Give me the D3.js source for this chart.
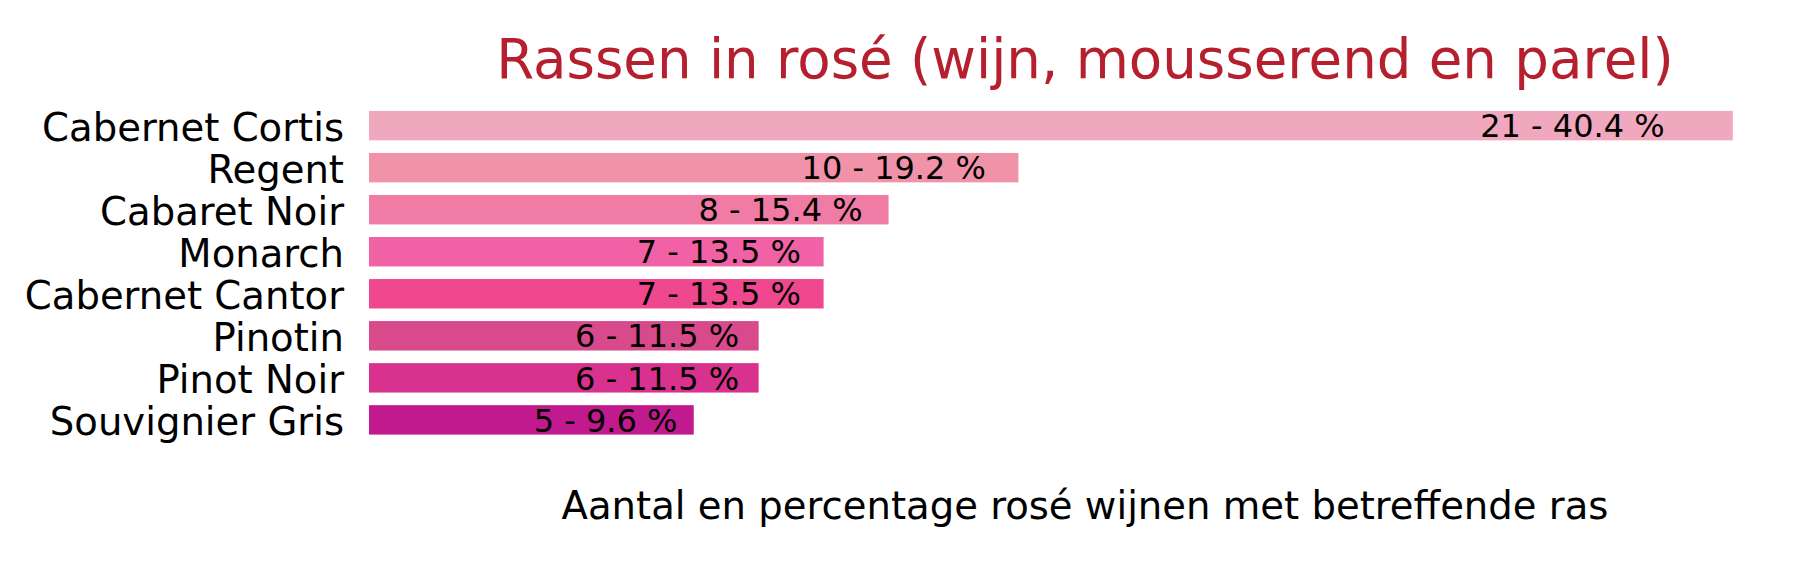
<!DOCTYPE html>
<html>
<head>
<meta charset="utf-8">
<script src="https://cdn.jsdelivr.net/npm/d3@7"></script>
<style>
body { margin: 0; background: #fff; }
text { font-family: "DejaVu Sans", sans-serif; }
</style>
</head>
<body>
<div id="chart"></div>
<script>
// rassen, aantallen, percentages en kleuren
var rassen = ["Cabernet Cortis", "Regent", "Cabaret Noir", "Monarch", "Cabernet Cantor", "Pinotin", "Pinot Noir", "Souvignier Gris"];
var aantallen = [21, 10, 8, 7, 7, 6, 6, 5];
var percentages = [40.4, 19.2, 15.4, 13.5, 13.5, 11.5, 11.5, 9.6];
var kleuren = ["#f0a8bf", "#f092a8", "#f07ba5", "#f062a5", "#f0488e", "#d84a8c", "#d9318e", "#c11a8e"];

var titel = "Rassen in rosé (wijn, mousserend en parel)";
var xlabel = "Aantal en percentage rosé wijnen met betreffende ras";

var width = 1808, height = 572;
var ax_left = 369, ax_right = 1801;   // assen zonder zichtbare lijnen
var bar_top = 104.6, bar_bottom = 440.9;

var data = rassen.map(function(r, i){
	return {ras: r, aantal: aantallen[i], pct: percentages[i], kleur: kleuren[i]};
});

var svg = d3.select("#chart").append("svg")
	.attr("width", width)
	.attr("height", height);

var x = d3.scaleLinear()
	.domain([0, d3.max(aantallen) * 1.05])
	.range([ax_left, ax_right]);

var y = d3.scaleBand()
	.domain(rassen)
	.range([bar_top, bar_bottom])
	.paddingInner(0.3)
	.paddingOuter(0.15);

svg.selectAll("rect.bar")
	.data(data)
	.enter()
	.append("rect")
	.attr("class", "bar")
	.attr("x", x(0))
	.attr("y", function(d){ return y(d.ras); })
	.attr("width", function(d){ return x(d.aantal) - x(0); })
	.attr("height", y.bandwidth())
	.style("fill", function(d){ return d.kleur; });

// labels in de balk, rechts uitgelijnd op 95% van de waarde
var label_fs = 32;
svg.selectAll("text.waarde")
	.data(data)
	.enter()
	.append("text")
	.attr("class", "waarde")
	.attr("x", function(d){ return x(d.aantal * 0.95); })
	.attr("y", function(d){ return y(d.ras) + y.bandwidth() / 2 + 0.365 * label_fs; })
	.attr("text-anchor", "end")
	.style("font-size", label_fs + "px")
	.style("fill", "#000")
	.text(function(d){ return d.aantal + " - " + d.pct.toFixed(1) + " %"; });

// y-as zonder lijn en ticks
var tick_fs = 38.6;
var yAxis = svg.append("g")
	.attr("transform", "translate(" + (ax_left - 25) + ",0)")
	.call(d3.axisLeft(y).tickSize(0).tickPadding(0));
yAxis.select(".domain").remove();
yAxis.selectAll("text")
	.attr("dy", null)
	.attr("y", 0.4 * tick_fs)
	.style("font-size", tick_fs + "px")
	.style("font-family", "DejaVu Sans")
	.style("fill", "#000");

svg.append("text")
	.attr("x", (ax_left + ax_right) / 2)
	.attr("y", 78)
	.attr("text-anchor", "middle")
	.style("font-size", "54.6px")
	.style("fill", "#b61f2e")
	.text(titel);

svg.append("text")
	.attr("x", (ax_left + ax_right) / 2)
	.attr("y", 519)
	.attr("text-anchor", "middle")
	.style("font-size", "38.6px")
	.style("fill", "#000")
	.text(xlabel);
</script>
</body>
</html>
